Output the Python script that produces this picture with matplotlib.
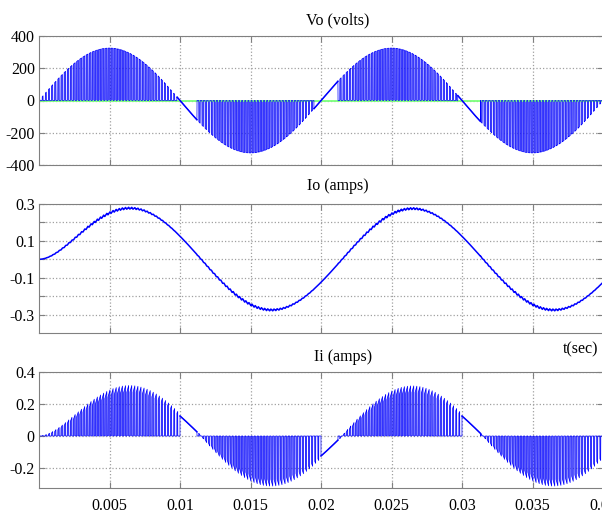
import numpy as np
import matplotlib
matplotlib.use('Agg')
import matplotlib.pyplot as plt

plt.rcParams['font.family'] = ['Liberation Serif', 'DejaVu Serif']
plt.rcParams['font.size'] = 11.5

# values
f_line = 50.0            # Hz, fundamental
f_sw = 4500.0            # Hz, switching (pulse) frequency
v_peak = 325.0           # V, output voltage envelope
i_peak = 0.275           # A, load current amplitude
i_lag = 0.0015           # s, current lag behind voltage
io_ripple = 0.011        # A, ripple on load current
ii_spike = 0.12          # relative overshoot on input current pulse tops
vo_windows = [(0.0098, 0.0112), (0.0195, 0.0212), (0.0297, 0.0313)]
ii_windows = [(0.0100, 0.0112), (0.0200, 0.0212), (0.0300, 0.0313)]

vo_yticks = [-400, -200, 0, 200, 400]
io_yticks = [-0.3, -0.2, -0.1, 0.0, 0.1, 0.2, 0.3]
io_ylabels = ['-0.3', '', '-0.1', '', '0.1', '', '0.3']
ii_yticks = [-0.2, 0.0, 0.2, 0.4]
ii_ylabels = ['-0.2', '0', '0.2', '0.4']
t_ticks = [0.005, 0.01, 0.015, 0.02, 0.025, 0.03, 0.035, 0.04]
t_labels = ['0.005', '0.01', '0.015', '0.02', '0.025', '0.03', '0.035', '0.04']

# waveform build
t = np.linspace(0, 0.04, 40001)
w = 2 * np.pi * f_line
s = np.sin(w * t)
phase = (t * f_sw) % 1.0
duty = 0.25 + 0.4 * np.abs(s)
on = phase < duty


def in_win(wins):
    m = np.zeros_like(t, dtype=bool)
    for a, b in wins:
        m |= (t >= a) & (t <= b)
    return m


vo_win = in_win(vo_windows)
ii_win = in_win(ii_windows)

vo = np.where(on | vo_win, v_peak * s, 0.0)

phi = w * i_lag
tau = np.tan(phi) / w
io = i_peak * (np.sin(w * t - phi) + np.sin(phi) * np.exp(-t / tau))
saw = np.where(phase < duty, phase / np.maximum(duty, 1e-6),
               1 - (phase - duty) / np.maximum(1 - duty, 1e-6))
io = io + np.where(vo_win, 0, io_ripple * np.abs(s) * (saw - 0.5) * np.sign(s))

ii_top = io * (1 + ii_spike * saw)
ii = np.where(ii_win, io, np.where(on, ii_top, 0.0))

fig = plt.figure(figsize=(6.02, 5.16), dpi=100)
W, H = 602.0, 516.0


def make_ax(top, bottom):
    return fig.add_axes([39 / W, 1 - bottom / H, 564 / W, (bottom - top) / H])


ax1 = make_ax(36, 165)
ax2 = make_ax(204, 333)
ax3 = make_ax(372, 488)

blue = '#0000ff'
fillc = '#6464f8'
ax1.fill_between(t, vo, 0, where=~vo_win, color=fillc, lw=0, zorder=1.5)
ax1.axhline(0, color='#7cff7c', lw=1.3, zorder=1.8)
ax1.plot(t, vo, color=blue, lw=0.5, zorder=2)
ax1.plot(t, np.where(vo_win, vo, np.nan), color=blue, lw=1.1, zorder=2.1)
ax2.plot(t, io, color=blue, lw=1.1)
ax3.fill_between(t, ii, 0, where=~ii_win, color=fillc, lw=0, zorder=1.5)
ax3.plot(t, ii, color=blue, lw=0.5, zorder=2)
ax3.plot(t, np.where(ii_win, ii, np.nan), color=blue, lw=1.1, zorder=2.1)

ax1.set_ylim(-400, 400)
ax1.set_yticks(vo_yticks)
ax1.set_yticklabels([str(v) for v in vo_yticks])
ax2.set_ylim(-0.4, 0.3)
ax2.set_yticks(io_yticks)
ax2.set_yticklabels(io_ylabels)
ax3.set_ylim(-0.325, 0.4)
ax3.set_yticks(ii_yticks)
ax3.set_yticklabels(ii_ylabels)

for ax in (ax1, ax2, ax3):
    ax.set_xlim(0, 0.04)
    ax.set_xticks(t_ticks)
    ax.grid(True, color='#a0a0a0', linestyle=':', lw=0.9)
    ax.tick_params(direction='in', top=True, right=True, length=4,
                   color='#808080', pad=3)
    for sp in ax.spines.values():
        sp.set_color('#808080')
    ax.set_axisbelow(True)

ax1.set_xticklabels([])
ax2.set_xticklabels([])
ax3.set_xticklabels(t_labels)
ax3.tick_params(axis='x', pad=7)

fig.text(338 / W, 1 - 20 / H, 'Vo (volts)', ha='center', va='center')
fig.text(338 / W, 1 - 186 / H, 'Io (amps)', ha='center', va='center')
fig.text(343 / W, 1 - 357 / H, 'Ii (amps)', ha='center', va='center')
fig.text(598 / W, 1 - 349 / H, 't(sec)', ha='right', va='center')

fig.savefig('out.png', dpi=100)
